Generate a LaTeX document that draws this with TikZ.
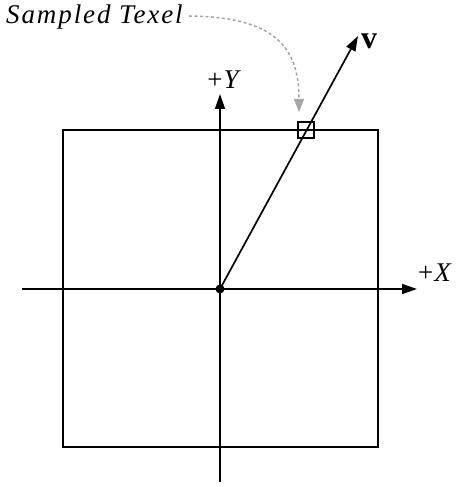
\documentclass[tikz,border=0pt]{standalone}
\usepackage{fontspec}
\setmainfont{Liberation Serif}
\newfontfamily\spacedfont[LetterSpace=7]{Liberation Serif}
\usetikzlibrary{arrows.meta}
\begin{document}
\begin{tikzpicture}[x=1pt,y=1pt,
  axis/.style={line width=1.7pt,-{Triangle[length=15pt,width=10pt]}},
  lbl/.style={font=\fontsize{27}{30}\selectfont\itshape,inner sep=0pt},
  frame/.style={draw,line width=1.7pt}]
\useasboundingbox (0,0) rectangle (455,487);
\coordinate (O) at (220,198);
\coordinate (SQa) at (63,40);
\coordinate (SQb) at (378,357);
\coordinate (Xa) at (22,198);
\coordinate (Xb) at (417,198);
\coordinate (Ya) at (220,5);
\coordinate (Yb) at (220,393);
\coordinate (V) at (358,451);
\draw[frame] (SQa) rectangle (SQb);
\draw[axis] (Xa) -- (Xb);
\draw[axis] (Ya) -- (Yb);
\draw[axis] (O) -- (V);
\fill (O) circle (4.5pt);
\node[frame,minimum size=16pt,inner sep=0pt] (tex) at (306,357) {};
\node[lbl,anchor=south] (ylbl) at (223,398) {{\upshape +}\kern1pt Y};
\node[lbl,anchor=west] (xlbl) at (418,214) {{\upshape +}\kern1pt X};
\node[font=\fontsize{32}{36}\selectfont\bfseries,inner sep=0pt] (vlbl) at (369,446) {v};
\node[lbl,anchor=base west,font=\fontsize{27}{30}\spacedfont\itshape] (st) at (6,463) {Sampled Texel};
\draw[gray!70,line width=1.5pt,dash pattern=on 3pt off 2.5pt,-{Triangle[length=13pt,width=10pt]}]
  (189,471) .. controls (275,470) and (299,440) .. (299,375);
\end{tikzpicture}
\end{document}
